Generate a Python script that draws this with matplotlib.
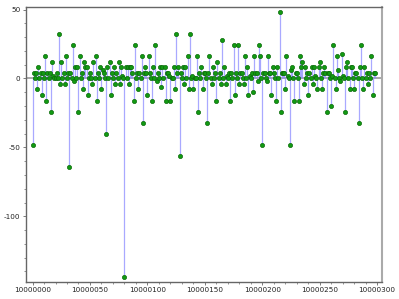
import numpy as np
import matplotlib
matplotlib.use("Agg")
import matplotlib.pyplot as plt
from matplotlib.ticker import MultipleLocator

# x offset from 10000000
start = 10000000
vals = [
    -48, 4, 0, 4, -8, 8, 0, 4, -12, 4,
    0, 16, -16, 4, 0, 4, -24, 12, 2, 0,
    0, 4, 0, 32, -4, 12, 0, 4, -4, 16,
    0, 4, -64, 4, 0, 24, -2, 8, 0, 8,
    -24, 16, 0, 4, -8, 12, 8, 8, -12, 0,
    4, 0, -4, 12, 0, 16, -16, 4, 0, 8,
    -8, 6, 4, 0, -40, 8, 0, 12, -12, 4,
    0, 8, -4, 4, 0, 12, -4, 8, 2, 0,
    -144, 8, 0, 8, -4, 8, 8, 4, -16, 24,
    0, 4, -8, 4, 0, 16, -32, 4, 8, 4,
    -12, 16, 4, 0, -16, 8, 0, 24, -2, 4,
    0, 8, -6, 8, 0, 8, -16, 4, 4, 2,
    -16, 0, 0, 8, -8, 32, 4, 8, -56, 4,
    0, 8, -4, 8, 0, 16, -8, 32, 0, 2,
    -8, 0, 0, 16, -24, 4, 0, 8, -8, 4,
    4, 0, -32, 4, 16, 0, -4, 8, 0, 4,
    -16, 12, 0, 4, -4, 28, 0, 8, -4, 2,
    0, 4, -16, 4, 0, 24, -12, 4, 0, 24,
    -4, 4, 4, 0, -4, 16, 0, 8, -12, 2,
    0, 4, -10, 16, 4, 4, -2, 24, 16, 0,
    -48, 4, 4, 0, -2, 16, 4, 4, -12, 8,
    4, 0, -16, 8, 0, 48, -24, 4, 4, 4,
    -8, 16, 2, 0, -48, 6, 8, 0, -16, 4,
    4, 0, -16, 16, 8, 12, -4, 8, 0, 4,
    -12, 4, 0, 8, -4, 8, 2, 0, -8, 8,
    12, 0, -8, 4, 8, 4, -24, 4, 4, 0,
    -20, 2, 24, 0, -8, 16, 6, 0, -2, 18,
    2, 0, -24, 8, 12, 0, -8, 8, 8, 0,
    -8, 4, 4, 0, -32, 8, 24, 0, -8, 8,
    0, 4, -4, 4, 0, 16, -12, 4, 4,
]
xs = start + np.arange(len(vals))
ys = np.array(vals)

plt.rcParams['axes.unicode_minus'] = False
fig = plt.figure(figsize=(3.99, 2.99), dpi=100)
ax = fig.add_axes([0.0644, 0.0559, 0.8922, 0.9207])

ax.axhline(0, color='#999999', lw=1.2, zorder=1)
ax.vlines(xs, 0, ys, color='#8c8cff', lw=0.9, alpha=0.75, zorder=2)
ax.plot(xs, ys, 'o', ms=3, mfc='#129a12', mec='#0a6a0a', mew=0.5, zorder=3)

ax.margins(x=0.02, y=0.02)
ax.xaxis.set_major_locator(MultipleLocator(50))
ax.xaxis.set_minor_locator(MultipleLocator(10))
ax.yaxis.set_major_locator(MultipleLocator(50))
ax.yaxis.set_minor_locator(MultipleLocator(10))
ax.ticklabel_format(useOffset=False, style='plain')

for s in ax.spines.values():
    s.set_color('#666666')
    s.set_linewidth(1.0)
ax.spines['right'].set_color('#aaaaaa')
ax.spines['right'].set_linewidth(1.5)

ax.tick_params(which='major', length=2.2, width=0.6, color='#666666',
               labelsize=5.2, labelcolor='#222222', pad=1.5)
ax.tick_params(which='minor', length=1.3, width=0.5, color='#666666')

fig.savefig('out.png', dpi=100)
